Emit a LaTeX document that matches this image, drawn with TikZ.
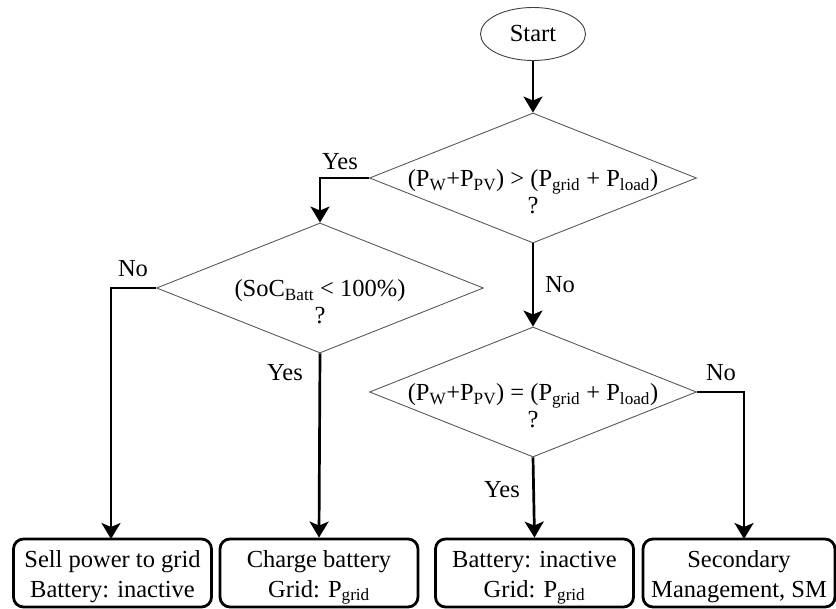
\documentclass[tikz,border=0pt]{standalone}
\usepackage{fontspec}
\setmainfont{Liberation Serif}
\usetikzlibrary{shapes.geometric,arrows.meta}
\begin{document}
\begin{tikzpicture}[x=1pt,y=-1pt,
  every node/.style={font=\fontsize{24.5}{27}\selectfont, inner sep=0pt},
  decision/.style={shape=diamond, draw=black!65, line width=0.9pt, minimum width=327pt, minimum height=130pt},
  dtext/.style={align=center, anchor=base, font=\fontsize{24.5}{27}\selectfont},
  startnode/.style={shape=ellipse, draw=black!75, line width=0.9pt, minimum width=105pt, minimum height=53pt},
  outbox/.style={draw=black, line width=2.8pt, rounded corners=10pt, minimum width=198pt, minimum height=68pt, align=center, font=\fontsize{24.5}{29}\selectfont, text height=48pt, text depth=0pt},
  arr/.style={draw=black, line width=2.7pt, -{Stealth[length=16pt,width=19pt,inset=4pt]}},
  lbl/.style={anchor=center}
]
\useasboundingbox (0,0) rectangle (836,609);

\node[startnode] (start) at (533,34) {Start};

\node[decision] (d1) at (533,178) {};
\node[dtext] (d1t) at (533,214) {(P\textsubscript{W}+P\textsubscript{PV}) {>} (P\textsubscript{grid} + P\textsubscript{load})\\?};

\node[decision] (d2) at (320,288) {};
\node[dtext] (d2t) at (320,324) {(SoC\textsubscript{Batt} {<} 100\%)\\?};

\node[decision] (d3) at (533,392) {};
\node[dtext] (d3t) at (533,428) {(P\textsubscript{W}+P\textsubscript{PV}) = (P\textsubscript{grid} + P\textsubscript{load})\\?};

\node[outbox] (b1) at (112.5,573) {Sell power to grid\\Battery: inactive};
\node[outbox] (b2) at (319,573) {Charge battery\\Grid: P\textsubscript{grid}};
\node[outbox] (b3) at (534.5,573) {Battery: inactive\\Grid: P\textsubscript{grid}};
\node[outbox, minimum width=192pt] (b4) at (739,573) {Secondary\\Management, SM};
\coordinate (b4in) at (744,539);
\coordinate (b1in) at (111,539);

\draw[arr] (start) -- (d1);
\draw[arr] (d1.west) -| (d2.north);
\draw[arr] (d2.west) -| (b1in);
\draw[arr] (d2.south) -- (b2.north);
\draw[arr] (d1.south) -- (d3.north);
\draw[arr] (d3.south) -- (b3.north);
\draw[arr] (d3.east) -| (b4in);

\node[lbl] (l1) at (340,162) {Yes};
\node[lbl] (l2) at (133,269) {No};
\node[lbl] (l3) at (285,373) {Yes};
\node[lbl] (l4) at (560,285) {No};
\node[lbl] (l5) at (721,373) {No};
\node[lbl] (l6) at (502,490) {Yes};
\end{tikzpicture}
\end{document}
